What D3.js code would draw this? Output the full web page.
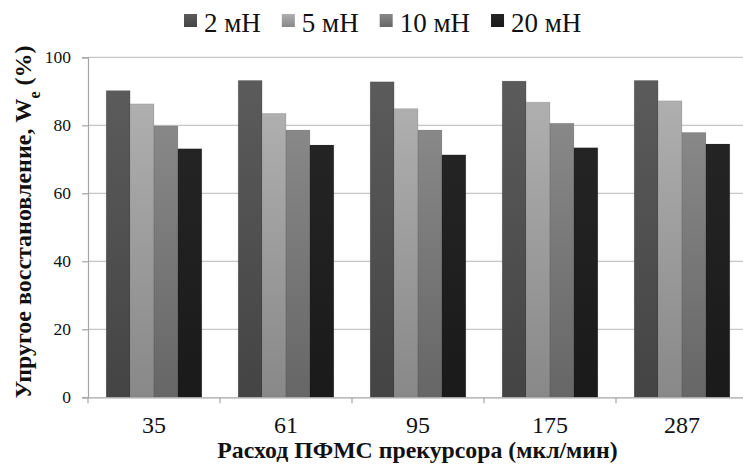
<!DOCTYPE html>
<html><head><meta charset="utf-8">
<script src="https://cdn.jsdelivr.net/npm/d3@7"></script>
<style>body{margin:0;background:#fff}svg{display:block}
text{font-family:"Liberation Serif","Times New Roman",serif;}</style>
</head><body>
<svg id="chart" width="743" height="469"></svg>
<script>
const categories = ["35", "61", "95", "175", "287"];
const seriesNames = ["2 мН", "5 мН", "10 мН", "20 мН"];
const s2 = [90.2, 93.2, 92.8, 93.0, 93.2];
const s5 = [86.3, 83.5, 84.9, 86.8, 87.2];
const s10 = [79.8, 78.6, 78.6, 80.6, 77.9];
const s20 = [73.1, 74.2, 71.3, 73.4, 74.5];
const yTicks = [0, 20, 40, 60, 80, 100];
const seriesValues = [s2, s5, s10, s20];
const colorsTop = ["#5b5b5b", "#afafaf", "#888888", "#242424"];
const colorsBot = ["#444444", "#888888", "#666666", "#1a1a1a"];

const svg = d3.select("#chart");
const font = '"Liberation Serif","Times New Roman",serif';
const pLeft = 88, pRight = 748, pTop = 57.3, pBottom = 397.3;

const x0 = d3.scaleBand().domain(categories).range([pLeft, pRight]).paddingInner(0).paddingOuter(0);
const x1 = d3.scaleBand().domain(seriesNames).range([0, x0.bandwidth()]).paddingInner(0).paddingOuter(0.76);
const y = d3.scaleLinear().domain([0, 100]).range([pBottom, pTop]);

const defs = svg.append("defs");
seriesNames.forEach((s, i) => {
  const g = defs.append("linearGradient").attr("id", "g" + i).attr("x1", 0).attr("y1", 0).attr("x2", 0).attr("y2", 1);
  g.append("stop").attr("offset", "0%").attr("stop-color", colorsTop[i]);
  g.append("stop").attr("offset", "100%").attr("stop-color", colorsBot[i]);
});

// gridlines
svg.append("g").selectAll("line").data(yTicks.filter(d => d > 0)).join("line")
  .attr("x1", pLeft).attr("x2", pRight).attr("y1", d => y(d)).attr("y2", d => y(d))
  .attr("stroke", "#c6c6c6").attr("stroke-width", 1.2);

// bars
const data = [];
categories.forEach((c, ci) => seriesNames.forEach((s, si) => data.push({c, s, si, v: seriesValues[si][ci]})));
svg.append("g").selectAll("rect").data(data).join("rect")
  .attr("x", d => x0(d.c) + x1(d.s)).attr("width", x1.bandwidth())
  .attr("y", d => y(d.v)).attr("height", d => y(0) - y(d.v))
  .attr("fill", d => `url(#g${d.si})`)
  .attr("stroke", "rgba(0,0,0,0.12)").attr("stroke-width", 0.8);

// y axis
const yAxis = d3.axisLeft(y).tickValues(yTicks).tickSize(6).tickPadding(11).tickFormat(d3.format("d"));
const ya = svg.append("g").attr("transform", `translate(${pLeft},0)`).call(yAxis);
ya.attr("font-family", null);
ya.select(".domain").attr("stroke", "#a6a6a6").attr("stroke-width", 1.2);
ya.selectAll(".tick line").attr("stroke", "#a6a6a6").attr("stroke-width", 1.2);
ya.selectAll(".tick text").style("font-family", font).style("font-size", "17.5px").attr("fill", "#111");

// x axis
const xAxis = d3.axisBottom(x0).tickSize(0);
const xa = svg.append("g").attr("transform", `translate(0,${pBottom})`).call(xAxis);
xa.attr("font-family", null);
xa.select(".domain").attr("stroke", "#a6a6a6").attr("stroke-width", 1.2);
xa.selectAll(".tick text").attr("y", 36).attr("dy", 0).style("font-family", font).style("font-size", "24px").attr("fill", "#111");
// category boundary ticks
svg.append("g").selectAll("line").data(categories).join("line")
  .attr("x1", d => x0(d)).attr("x2", d => x0(d)).attr("y1", pBottom).attr("y2", pBottom + 6)
  .attr("stroke", "#a6a6a6").attr("stroke-width", 1.2);

// axis titles
svg.append("text").attr("x", (pLeft + pRight) / 2 - 0.5).attr("y", 458).attr("text-anchor", "middle")
  .style("font-family", font).style("font-size", "23.8px").attr("font-weight", "bold").attr("fill", "#111")
  .text("Расход ПФМС прекурсора (мкл/мин)");

const yt = svg.append("text").attr("transform", "translate(31,222) rotate(-90)").attr("text-anchor", "middle")
  .style("font-family", font).style("font-size", "24px").attr("font-weight", "bold").attr("fill", "#111");
yt.append("tspan").text("Упругое восстановление, W");
yt.append("tspan").attr("baseline-shift", "sub").style("font-size", "16px").text("e");
yt.append("tspan").text(" (%)");

// legend
const leg = svg.append("g");
let lx = 184;
seriesNames.forEach((s, i) => {
  leg.append("rect").attr("x", lx).attr("y", 14).attr("width", 13).attr("height", 13).attr("fill", `url(#g${i})`);
  const t = leg.append("text").attr("x", lx + 20).attr("y", 31.5).style("font-family", font).style("font-size", "27px").attr("fill", "#111").text(s);
  lx += 20 + t.node().getComputedTextLength() + 21;
});
</script>
</body></html>
